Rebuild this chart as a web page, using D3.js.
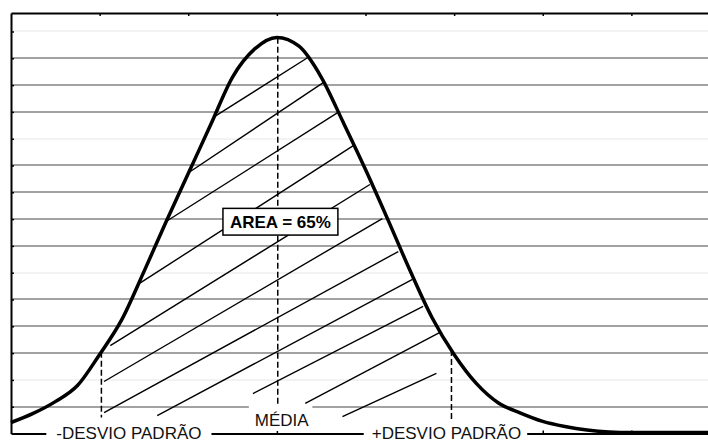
<!DOCTYPE html>
<html>
<head>
<meta charset="utf-8">
<script src="https://cdn.jsdelivr.net/npm/d3@7"></script>
<style>
  body { margin: 0; background: #fff; overflow: hidden; }
  text { font-family: "Liberation Sans", Arial, sans-serif; }
</style>
</head>
<body>
<div id="chart"></div>
<script>
// Curve samples (x in axis units, y in gridline units)
const curveX = [0, 0.25, 0.5, 0.75, 1, 1.25, 1.5, 1.75, 2, 2.25, 2.5, 2.75, 3, 3.25, 3.5, 3.75,
                4, 4.25, 4.5, 4.75, 5, 5.25, 5.5, 5.75, 6, 6.25, 6.5, 6.75, 7, 7.25, 7.5, 7.75, 8];
const curveY = [0.41, 0.75, 1.19, 1.79, 2.95, 4.25, 6.04, 7.9, 9.7, 11.5, 13.3, 14.35, 14.78, 14.45, 13.3, 11.6,
                9.85, 8.0, 6.1, 4.33, 2.95, 1.87, 1.14, 0.76, 0.45, 0.26, 0.13, 0.06, 0.04, 0.04, 0.04, 0.04, 0.04];

// Axis ticks (no labels in the original)
const xTicks = [0, 1, 2, 3, 4, 5, 6, 7, 8];
const yTicks = [1, 2, 3, 4, 5, 6, 7, 8, 9, 10, 11, 12, 13, 14, 15];

// -sigma, mean, +sigma markers
const markerX = [1.02, 3.01, 4.97];
const markerLabels = ["-DESVIO PADRÃO", "MÉDIA", "+DESVIO PADRÃO"];
const areaLabel = "AREA = 65%";

// Hand drawn hatch strokes (start / end, in axis units)
const hatchX1 = [2.30, 1.99, 1.75, 1.45, 1.12, 1.05, 1.05, 1.65, 2.73, 3.32, 3.74];
const hatchY1 = [11.83, 9.70, 7.91, 5.60, 3.28, 1.94, 0.78, 0.67, 1.49, 1.12, 0.63];
const hatchX2 = [3.35, 3.54, 3.69, 3.88, 4.05, 4.19, 4.37, 4.53, 4.65, 4.84, 4.80];
const hatchY2 = [14.03, 13.13, 11.98, 10.78, 9.29, 8.02, 6.79, 5.75, 4.74, 3.77, 2.24];

const width = 708, height = 443;

const x = d3.scaleLinear().domain([0, 8]).range([11, 720]);
const y = d3.scaleLinear().domain([0, 15.69]).range([433.5, 13]);

const svg = d3.select("#chart")
    .append("svg")
    .attr("width", width)
    .attr("height", height);

// Gridlines - some came out faint in the original
const faint = [2, 6, 11, 15];
svg.append("g")
    .selectAll("line")
    .data(yTicks)
    .enter()
    .append("line")
    .attr("x1", x(0))
    .attr("x2", x(8))
    .attr("y1", d => Math.round(y(d)))
    .attr("y2", d => Math.round(y(d)))
    .attr("stroke", d => faint.includes(d) ? "#e6e6e6" : "#a2a2a2")
    .attr("stroke-width", d => faint.includes(d) ? 1 : 2);

// Hatching
svg.append("g")
    .selectAll("line")
    .data(d3.range(hatchX1.length))
    .enter()
    .append("line")
    .attr("x1", i => x(hatchX1[i]))
    .attr("y1", i => y(hatchY1[i]))
    .attr("x2", i => x(hatchX2[i]))
    .attr("y2", i => y(hatchY2[i]))
    .attr("stroke", "#000")
    .attr("stroke-width", 1.4);

// Value of the curve at a given x (linear between samples)
function curveAt(v) {
    const i = Math.max(1, d3.bisectLeft(curveX, v));
    const t = (v - curveX[i - 1]) / (curveX[i] - curveX[i - 1]);
    return curveY[i - 1] + t * (curveY[i] - curveY[i - 1]);
}

// Dashed marker lines
const markerBottom = [16, 29, 12];
svg.append("g")
    .selectAll("line")
    .data(markerX)
    .enter()
    .append("line")
    .attr("x1", d => x(d))
    .attr("x2", d => x(d))
    .attr("y1", d => y(curveAt(d)))
    .attr("y2", (d, i) => y(0) - markerBottom[i])
    .attr("stroke", "#000")
    .attr("stroke-width", 1.5)
    .attr("stroke-dasharray", "6,3");

// Bell curve
const line = d3.line()
    .x(d => x(d[0]))
    .y(d => y(d[1]))
    .curve(d3.curveMonotoneX);

svg.append("path")
    .datum(d3.zip(curveX, curveY))
    .attr("d", line)
    .attr("fill", "none")
    .attr("stroke", "#000")
    .attr("stroke-width", 3.5)
    .attr("stroke-linejoin", "round");

// Axes: ticks point inwards, no labels
function styleAxis(g) {
    g.select(".domain").attr("stroke", "#000").attr("stroke-width", 2);
    g.selectAll(".tick line").attr("stroke", "#000").attr("stroke-width", 1.5);
}

svg.append("g")
    .attr("transform", `translate(${x(0)},0)`)
    .call(d3.axisLeft(y).tickValues(yTicks).tickSize(-3).tickSizeOuter(0).tickFormat(""))
    .call(styleAxis);

svg.append("g")
    .attr("transform", `translate(0,${y(15.69)})`)
    .call(d3.axisTop(x).tickValues(xTicks.slice(1)).tickSize(-3).tickSizeOuter(0).tickFormat(""))
    .call(styleAxis);

svg.append("g")
    .attr("transform", `translate(0,${y(0)})`)
    .call(d3.axisBottom(x).tickValues(xTicks.slice(1)).tickSize(-3).tickSizeOuter(0).tickFormat(""))
    .call(styleAxis);

// Marker labels with white boxes
const labelLayout = [
    { dx: 27.5, dy: 5.5, padL: 10, padR: 10, top: -12, bottom: 12 },
    { dx: 4, dy: -8, padL: 6, padR: 3, top: -28.5, bottom: -2.5 },
    { dx: -5, dy: 5.5, padL: 8, padR: 6, top: -11, bottom: 12 }
];

markerX.forEach((mx, i) => {
    const L = labelLayout[i];
    const g = svg.append("g");
    const rect = g.append("rect").attr("fill", "#fff");
    const t = g.append("text")
        .attr("x", x(mx) + L.dx)
        .attr("y", y(0) + L.dy)
        .attr("text-anchor", "middle")
        .attr("font-size", 17)
        .attr("fill", "#111")
        .text(markerLabels[i]);
    const bb = t.node().getBBox();
    rect.attr("x", bb.x - L.padL)
        .attr("width", bb.width + L.padL + L.padR)
        .attr("y", y(0) + L.top)
        .attr("height", L.bottom - L.top);
});

// Area annotation
const areaG = svg.append("g");
const areaRect = areaG.append("rect")
    .attr("fill", "#fff")
    .attr("stroke", "#000")
    .attr("stroke-width", 1.5);
const areaText = areaG.append("text")
    .attr("x", x(3.04))
    .attr("y", y(7.9) + 6.3)
    .attr("text-anchor", "middle")
    .attr("font-size", 17)
    .attr("font-weight", "bold")
    .text(areaLabel);
const abb = areaText.node().getBBox();
areaRect.attr("x", abb.x - 7)
    .attr("y", y(7.9) - 13.4)
    .attr("width", abb.width + 14)
    .attr("height", 26.7);
</script>
</body>
</html>
